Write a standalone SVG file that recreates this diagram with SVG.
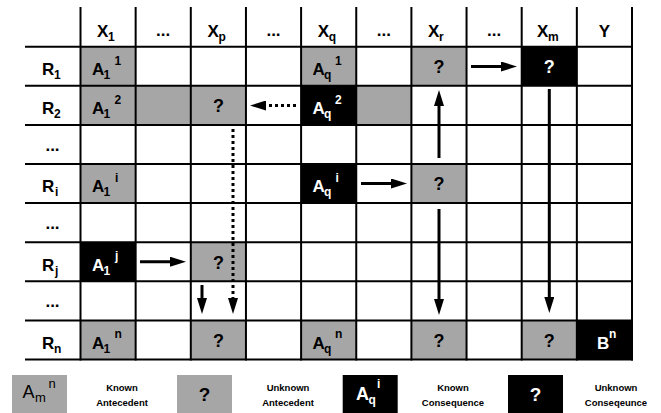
<svg xmlns="http://www.w3.org/2000/svg" width="661" height="413" viewBox="0 0 661 413">
<defs>
<style>
text{font-family:"Liberation Sans",Arial,sans-serif;font-weight:bold;fill:#000}
.m{font-size:17px}
.s{font-size:12px}
.q{font-size:18px;text-anchor:middle}
.w{fill:#fff}
.c{text-anchor:middle}
.lg{font-size:9.5px;text-anchor:middle}
.g{fill:#a6a6a6}
.k{fill:#000}
.grid line{stroke:#000;stroke-width:2}
.arr line{stroke:#000;stroke-width:3}
.arr line.dot{stroke-dasharray:3 3}
</style>
<marker id="ah" markerUnits="userSpaceOnUse" markerWidth="16" markerHeight="10" refX="6" refY="5" orient="auto" viewBox="0 0 16 10">
<path d="M0,0 L16,5 L0,10 z" fill="#000"/>
</marker>
</defs>
<rect width="661" height="413" fill="#fff"/>

<g id="headers">
<g id="h-x1"><text class="m" x="97" y="37">X</text><text class="s" x="108" y="41">1</text></g>
<g id="h-d1"><text class="m c" x="163.2" y="36">...</text></g>
<g id="h-xp"><text class="m" x="207.4" y="37">X</text><text class="s" x="218.4" y="41">p</text></g>
<g id="h-d2"><text class="m c" x="273.5" y="36">...</text></g>
<g id="h-xq"><text class="m" x="317.7" y="37">X</text><text class="s" x="328.7" y="41">q</text></g>
<g id="h-d3"><text class="m c" x="383.8" y="36">...</text></g>
<g id="h-xr"><text class="m" x="428" y="37">X</text><text class="s" x="439" y="41">r</text></g>
<g id="h-d4"><text class="m c" x="494.1" y="36">...</text></g>
<g id="h-xm"><text class="m" x="537" y="37">X</text><text class="s" x="548" y="41">m</text></g>
<g id="h-y"><text class="m c" x="604.4" y="37">Y</text></g>
</g>

<g id="rowlabels">
<g id="r-1"><text class="m" x="42" y="75">R</text><text class="s" x="54" y="79">1</text></g>
<g id="r-2"><text class="m" x="42" y="114.1">R</text><text class="s" x="54" y="118.1">2</text></g>
<g id="r-d1"><text class="m c" x="52.5" y="150.9">...</text></g>
<g id="r-i"><text class="m" x="42" y="192.3">R</text><text class="s" x="55" y="196.3">i</text></g>
<g id="r-d2"><text class="m c" x="52.5" y="229.1">...</text></g>
<g id="r-j"><text class="m" x="42" y="270.5">R</text><text class="s" x="55" y="274.5">j</text></g>
<g id="r-d3"><text class="m c" x="52.5" y="307.3">...</text></g>
<g id="r-n"><text class="m" x="42" y="348.7">R</text><text class="s" x="54" y="352.7">n</text></g>
</g>

<g id="cells">
<g id="c-r1-x1"><rect class="g" x="80.5" y="46.7" width="55.15" height="39.1"/><text class="m" x="92" y="75">A</text><text class="s" x="103.5" y="79">1</text><text class="s" x="114.5" y="64.5">1</text></g>
<g id="c-r1-xq"><rect class="g" x="301.1" y="46.7" width="55.15" height="39.1"/><text class="m" x="312.6" y="75">A</text><text class="s" x="324.1" y="79">q</text><text class="s" x="335.1" y="64.5">1</text></g>
<g id="c-r1-xr"><rect class="g" x="411.4" y="46.7" width="55.15" height="39.1"/><text class="q" x="439" y="73">?</text></g>
<g id="c-r1-xm"><rect class="k" x="521.7" y="46.7" width="55.15" height="39.1"/><text class="q w" x="549.3" y="73">?</text></g>
<g id="c-r2-x1"><rect class="g" x="80.5" y="85.8" width="55.15" height="39.1"/><text class="m" x="92" y="114.1">A</text><text class="s" x="103.5" y="118.1">1</text><text class="s" x="114.5" y="103.6">2</text></g>
<g id="c-r2-d1"><rect class="g" x="135.65" y="85.8" width="55.15" height="39.1"/></g>
<g id="c-r2-xp"><rect class="g" x="190.8" y="85.8" width="55.15" height="39.1"/><text class="q" x="218.4" y="112.1">?</text></g>
<g id="c-r2-xq"><rect class="k" x="301.1" y="85.8" width="55.15" height="39.1"/><text class="m w" x="312.6" y="114.1">A</text><text class="s w" x="324.1" y="118.1">q</text><text class="s w" x="335.1" y="103.6">2</text></g>
<g id="c-r2-d3"><rect class="g" x="356.25" y="85.8" width="55.15" height="39.1"/></g>
<g id="c-ri-x1"><rect class="g" x="80.5" y="164" width="55.15" height="39.1"/><text class="m" x="92" y="192.3">A</text><text class="s" x="103.5" y="196.3">1</text><text class="s" x="115" y="181.8">i</text></g>
<g id="c-ri-xq"><rect class="k" x="301.1" y="164" width="55.15" height="39.1"/><text class="m w" x="312.6" y="192.3">A</text><text class="s w" x="324.1" y="196.3">q</text><text class="s w" x="335.6" y="181.8">i</text></g>
<g id="c-ri-xr"><rect class="g" x="411.4" y="164" width="55.15" height="39.1"/><text class="q" x="439" y="190.3">?</text></g>
<g id="c-rj-x1"><rect class="k" x="80.5" y="242.2" width="55.15" height="39.1"/><text class="m w" x="92" y="270.5">A</text><text class="s w" x="103.5" y="274.5">1</text><text class="s w" x="115" y="260">j</text></g>
<g id="c-rj-xp"><rect class="g" x="190.8" y="242.2" width="55.15" height="39.1"/><text class="q" x="218.4" y="268.5">?</text></g>
<g id="c-rn-x1"><rect class="g" x="80.5" y="320.4" width="55.15" height="39.1"/><text class="m" x="92" y="348.7">A</text><text class="s" x="103.5" y="352.7">1</text><text class="s" x="114.5" y="338.2">n</text></g>
<g id="c-rn-xp"><rect class="g" x="190.8" y="320.4" width="55.15" height="39.1"/><text class="q" x="218.4" y="346.7">?</text></g>
<g id="c-rn-xq"><rect class="g" x="301.1" y="320.4" width="55.15" height="39.1"/><text class="m" x="312.6" y="348.7">A</text><text class="s" x="324.1" y="352.7">q</text><text class="s" x="335.1" y="338.2">n</text></g>
<g id="c-rn-xr"><rect class="g" x="411.4" y="320.4" width="55.15" height="39.1"/><text class="q" x="439" y="346.7">?</text></g>
<g id="c-rn-xm"><rect class="g" x="521.7" y="320.4" width="55.15" height="39.1"/><text class="q" x="549.3" y="346.7">?</text></g>
<g id="c-rn-y"><rect class="k" x="576.85" y="320.4" width="55.15" height="39.1"/><text class="m w" x="597" y="348.7">B</text><text class="s w" x="609" y="338.2">n</text></g>
</g>

<g class="grid">
<line x1="25" y1="46.7" x2="633" y2="46.7"/>
<line x1="25" y1="85.8" x2="633" y2="85.8"/>
<line x1="25" y1="124.9" x2="633" y2="124.9"/>
<line x1="25" y1="164" x2="633" y2="164"/>
<line x1="25" y1="203.1" x2="633" y2="203.1"/>
<line x1="25" y1="242.2" x2="633" y2="242.2"/>
<line x1="25" y1="281.3" x2="633" y2="281.3"/>
<line x1="25" y1="320.4" x2="633" y2="320.4"/>
<line x1="25" y1="359.5" x2="633" y2="359.5"/>
<line x1="80.5" y1="7" x2="80.5" y2="360.5"/>
<line x1="135.65" y1="7" x2="135.65" y2="360.5"/>
<line x1="190.8" y1="7" x2="190.8" y2="360.5"/>
<line x1="245.95" y1="7" x2="245.95" y2="360.5"/>
<line x1="301.1" y1="7" x2="301.1" y2="360.5"/>
<line x1="356.25" y1="7" x2="356.25" y2="360.5"/>
<line x1="411.4" y1="7" x2="411.4" y2="360.5"/>
<line x1="466.55" y1="7" x2="466.55" y2="360.5"/>
<line x1="521.7" y1="7" x2="521.7" y2="360.5"/>
<line x1="576.85" y1="7" x2="576.85" y2="360.5"/>
<line x1="632" y1="7" x2="632" y2="360.5"/>
</g>

<g id="connectors" class="arr">
<line x1="471" y1="66.5" x2="507" y2="66.5" marker-end="url(#ah)"/>
<line class="dot" x1="296" y1="105.5" x2="260" y2="105.5" marker-end="url(#ah)"/>
<line x1="439" y1="158" x2="439" y2="100" marker-end="url(#ah)"/>
<line x1="361" y1="183.5" x2="397" y2="183.5" marker-end="url(#ah)"/>
<line x1="140" y1="261.7" x2="176" y2="261.7" marker-end="url(#ah)"/>
<line class="dot" x1="233" y1="129" x2="233" y2="304" marker-end="url(#ah)"/>
<line x1="202" y1="285" x2="202" y2="304" marker-end="url(#ah)"/>
<line x1="439" y1="209" x2="439" y2="305" marker-end="url(#ah)"/>
<line x1="549.3" y1="89" x2="549.3" y2="303" marker-end="url(#ah)"/>
</g>

<g id="legend">
<g id="lg-ka"><rect class="g" x="12" y="375" width="55" height="38"/><text x="22.5" y="398" style="font-size:18px;font-weight:normal">A</text><text x="35" y="401.5" style="font-size:13px;font-weight:normal">m</text><text x="48.5" y="388" style="font-size:13px;font-weight:normal">n</text></g>
<g id="lg-ka-t"><text class="lg" x="122" y="391">Known</text><text class="lg" x="122" y="405.5">Antecedent</text></g>
<g id="lg-ua"><rect class="g" x="177" y="375" width="55" height="38"/><text class="q" x="204.5" y="400.5" style="font-size:19px">?</text></g>
<g id="lg-ua-t"><text class="lg" x="288" y="391">Unknown</text><text class="lg" x="288" y="405.5">Antecedent</text></g>
<g id="lg-kc"><rect class="k" x="342.7" y="375" width="55" height="38"/><text class="w" x="356" y="399.5" style="font-size:18px">A</text><text class="w" x="368.5" y="403.5" style="font-size:12px">q</text><text class="w" x="377" y="388" style="font-size:12px">i</text></g>
<g id="lg-kc-t"><text class="lg" x="453" y="391">Known</text><text class="lg" x="453" y="405.5">Consequence</text></g>
<g id="lg-uc"><rect class="k" x="508" y="375" width="55" height="38"/><text class="q w" x="535.5" y="400.5" style="font-size:19px">?</text></g>
<g id="lg-uc-t"><text class="lg" x="616" y="391">Unknown</text><text class="lg" x="616" y="405.5">Conseqeunce</text></g>
</g>
</svg>
